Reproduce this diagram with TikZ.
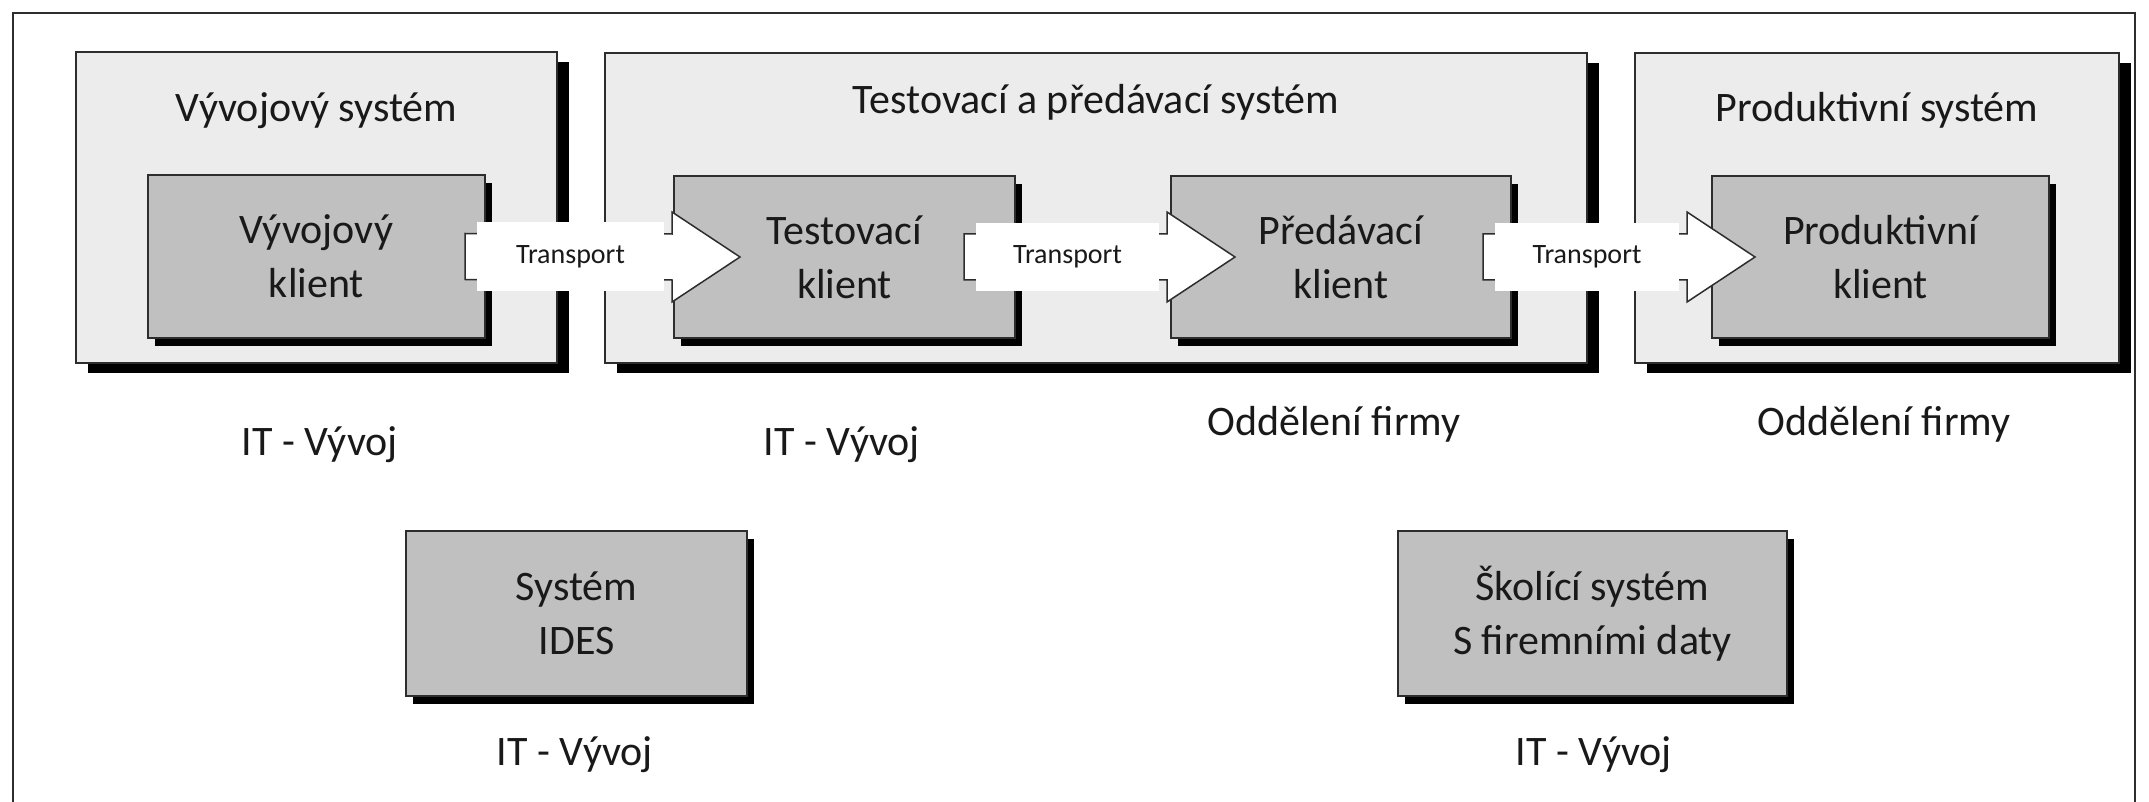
\documentclass[tikz,border=0pt]{standalone}
\usepackage{fontspec}
\setmainfont{Carlito}
\usetikzlibrary{calc,shadows}
\definecolor{sysgray}{RGB}{236,236,236}
\definecolor{clgray}{RGB}{192,192,192}
\definecolor{edgegray}{RGB}{45,45,45}
\definecolor{inkgray}{RGB}{25,25,25}
\tikzset{
  frameline/.style={draw=edgegray, line width=2pt},
  sysbox/.style={draw=edgegray, line width=2pt, fill=sysgray, anchor=north west, inner sep=0pt,
    drop shadow={shadow xshift=12pt, shadow yshift=-10pt, fill=black, opacity=1}},
  clbox/.style={draw=edgegray, line width=2pt, fill=clgray, anchor=north west, inner sep=0pt,
    align=center, text=inkgray, font=\fontsize{42}{54}\selectfont,
    drop shadow={shadow xshift=7pt, shadow yshift=-8pt, fill=black, opacity=1}},
  titletext/.style={anchor=base, text=inkgray, font=\fontsize{42}{50}\selectfont},
  labtext/.style={anchor=base, text=inkgray, font=\fontsize{42}{50}\selectfont},
  tarrow/.style={draw=edgegray, line width=1.5pt, fill=white},
  ttext/.style={text=inkgray, font=\fontsize{28}{32}\selectfont}
}
\begin{document}
\begin{tikzpicture}[x=1pt, y=-1pt]
  \useasboundingbox (0,0) rectangle (2149,802);
  \draw[frameline] (13,13) rectangle (2135,806);

  % systems
  \node[sysbox, minimum width=481pt, minimum height=311pt] (devsys) at (75,51) {};
  \node[sysbox, minimum width=982pt, minimum height=310pt] (testsys) at (604,52) {};
  \node[sysbox, minimum width=484pt, minimum height=310pt] (prodsys) at (1634,52) {};
  \node[titletext] (devtitle) at ($(devsys.north)+(0,71)$) {Vývojový systém};
  \node[titletext] (testtitle) at ($(testsys.north)+(0,62)$) {Testovací a předávací systém};
  \node[titletext] (prodtitle) at ($(prodsys.north)+(0,70)$) {Produktivní systém};

  % clients
  \node[clbox, minimum width=337pt, minimum height=163pt] (devcl) at (147,174) {Vývojový\\klient};
  \node[clbox, minimum width=341pt, minimum height=162pt] (testcl) at (673,175) {Testovací\\klient};
  \node[clbox, minimum width=340pt, minimum height=162pt] (handcl) at (1170,175) {Předávací\\klient};
  \node[clbox, minimum width=337pt, minimum height=162pt] (prodcl) at (1711,175) {Produktivní\\klient};

  % transports
  \foreach \from/\to/\s/\e in {devcl/testcl/21/67, testcl/handcl/52/65, handcl/prodcl/29/44} {
    \coordinate (t0) at ($(\from.east)+(-\s,0)$);
    \coordinate (t1) at ($(\to.west)+(\e,0)$);
    \draw[tarrow] ($(t0)+(0,-23)$) -- ($(t1)+(-68,-23)$) -- ($(t1)+(-68,-45)$) -- (t1)
      -- ($(t1)+(-68,45)$) -- ($(t1)+(-68,23)$) -- ($(t0)+(0,23)$) -- cycle;
    \fill[white] ($(t0)+(12,-34)$) rectangle ($(t1)+(-76,34)$);
    \node[ttext] at ($(t0)!0.5!(t1)+(-32,0)$) {Transport};
  }

  \node[labtext] (devlab) at (320,455) {IT - Vývoj};
  \node[labtext] (testlab) at (842,455) {IT - Vývoj};
  \node[labtext] (handlab) at (1334,435) {Oddělení firmy};
  \node[labtext] (prodlab) at (1884,435) {Oddělení firmy};

  % other systems
  \node[clbox, minimum width=341pt, minimum height=165pt] (ides) at (405,530) {Systém\\IDES};
  \node[clbox, minimum width=389pt, minimum height=165pt] (school) at (1397,530) {Školící systém\\S firemními daty};
  \node[labtext] (ideslab) at (575,765) {IT - Vývoj};
  \node[labtext] (schoollab) at (1594,765) {IT - Vývoj};
\end{tikzpicture}
\end{document}
